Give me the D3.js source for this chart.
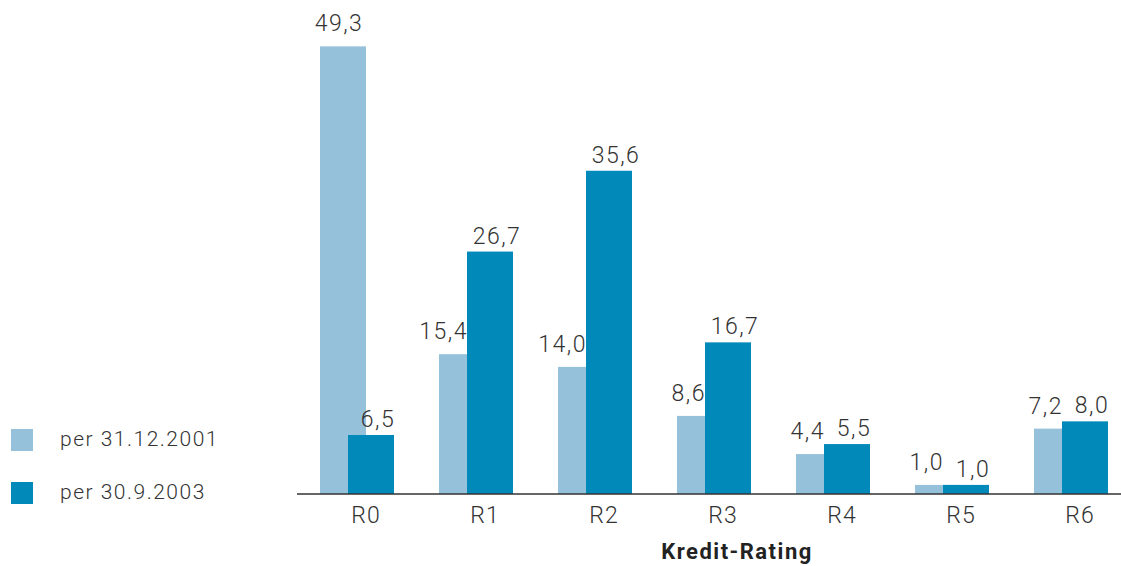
<!DOCTYPE html>
<html lang="de">
<head>
<meta charset="UTF-8" />
<title>Kredit-Rating</title>
<script src="https://d3js.org/d3.v7.min.js"></script>
<style>
  body { margin: 0; background: #fff; }
  svg text { font-family: Roboto, "Liberation Sans", sans-serif; fill: #333; letter-spacing: 1.5px; }
  .val, .cat { font-size: 23px; font-weight: 300; }
  .cat { letter-spacing: 1px; }
  .leg { font-size: 21px; font-weight: 300; }
  .title { font-size: 22px; font-weight: 700; fill: #222; }
</style>
</head>
<body>
<div id="chart"></div>
<script>
// data
var categories = ["R0", "R1", "R2", "R3", "R4", "R5", "R6"];
var series2001 = [49.3, 15.4, 14.0, 8.6, 4.4, 1.0, 7.2];
var series2003 = [6.5, 26.7, 35.6, 16.7, 5.5, 1.0, 8.0];
var seriesNames = ["per 31.12.2001", "per 30.9.2003"];
var axisTitle = "Kredit-Rating";

var colLight = "#96c1db", colDark = "#0089b9";
var W = 1121, H = 566;
var barW = 46, shift = 28;

var svg = d3.select("#chart").append("svg")
    .attr("width", W)
    .attr("height", H);

// scales
var x = d3.scaleBand()
    .domain(categories)
    .range([320, 320 + 7 * 119])
    .padding(0);
var y = d3.scaleLinear()
    .domain([0, 50])
    .range([494, 494 - 50 * 9.08]);

var de = d3.formatLocale({decimal: ",", thousands: ".", grouping: [3], currency: ["", "€"]});
var fmt = de.format(".1f");

var rows = categories.map(function(c, i) {
  return {cat: c, a: series2001[i], b: series2003[i]};
});

// light bars (2001) behind
svg.append("g").selectAll("rect")
  .data(rows).enter().append("rect")
    .attr("x", function(d) { return x(d.cat); })
    .attr("y", function(d) { return y(d.a); })
    .attr("width", barW)
    .attr("height", function(d) { return y(0) - y(d.a); })
    .attr("fill", colLight);

// dark bars (2003) in front
svg.append("g").selectAll("rect")
  .data(rows).enter().append("rect")
    .attr("x", function(d) { return x(d.cat) + shift; })
    .attr("y", function(d) { return y(d.b); })
    .attr("width", barW)
    .attr("height", function(d) { return y(0) - y(d.b); })
    .attr("fill", colDark);

// value labels
svg.append("g").selectAll("text")
  .data(rows).enter().append("text")
    .attr("class", "val")
    .attr("x", function(d) { return d.a > d.b ? x(d.cat) + barW / 2 - 4 : x(d.cat) + shift + 1; })
    .attr("y", function(d) { return y(d.a) - 15; })
    .attr("text-anchor", function(d) { return d.a > d.b ? "middle" : "end"; })
    .text(function(d) { return fmt(d.a); });

svg.append("g").selectAll("text")
  .data(rows).enter().append("text")
    .attr("class", "val")
    .attr("x", function(d) { return x(d.cat) + shift + barW / 2 + 7; })
    .attr("y", function(d) { return y(d.b) - 8; })
    .attr("text-anchor", "middle")
    .text(function(d) { return fmt(d.b); });

// baseline
svg.append("line")
    .attr("x1", 297).attr("x2", W)
    .attr("y1", y(0)).attr("y2", y(0))
    .attr("stroke", "#333")
    .attr("stroke-width", 1.5);

// category labels
svg.append("g").selectAll("text")
  .data(categories).enter().append("text")
    .attr("class", "cat")
    .attr("x", function(c) { return x(c) + 46; })
    .attr("y", 523)
    .attr("text-anchor", "middle")
    .text(function(c) { return c; });

svg.append("text")
    .attr("class", "title")
    .attr("x", 737)
    .attr("y", 559)
    .attr("text-anchor", "middle")
    .text(axisTitle);

// legend
var leg = svg.append("g").selectAll("g")
  .data(seriesNames).enter().append("g")
    .attr("transform", function(d, i) { return "translate(11," + (429 + i * 53) + ")"; });
leg.append("rect")
    .attr("width", 22).attr("height", 22)
    .attr("fill", function(d, i) { return i === 0 ? colLight : colDark; });
leg.append("text")
    .attr("class", "leg")
    .attr("x", 49)
    .attr("y", 17)
    .text(function(d) { return d; });
</script>
</body>
</html>
